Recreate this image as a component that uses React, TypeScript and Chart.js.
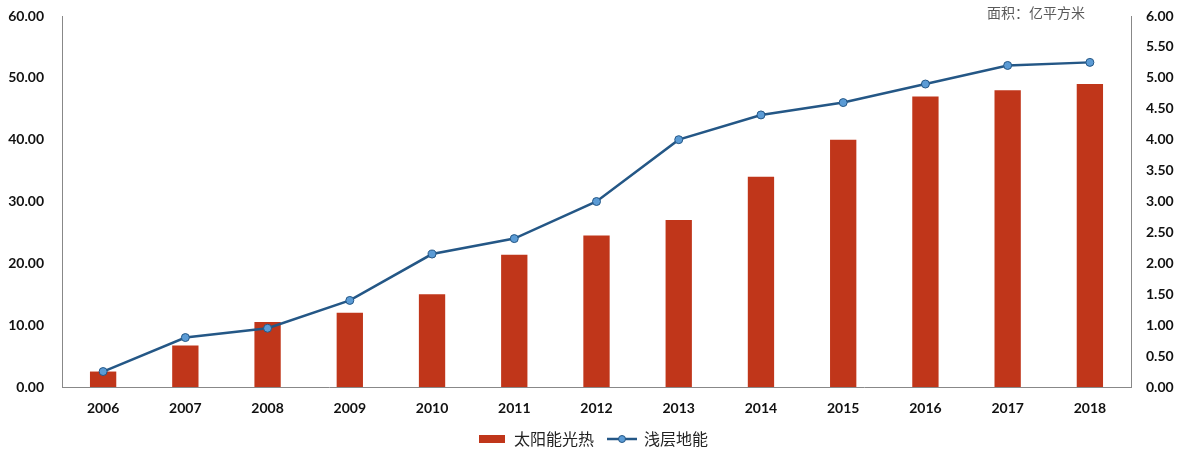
import React, { useEffect, useRef } from "react";
import { Chart, registerables } from "chart.js";

Chart.register(...registerables);

const years = ["2006", "2007", "2008", "2009", "2010", "2011", "2012", "2013", "2014", "2015", "2016", "2017", "2018"];
const solarThermal = [2.5, 6.7, 10.5, 12.0, 15.0, 21.4, 24.5, 27.0, 34.0, 40.0, 47.0, 48.0, 49.0];
const shallowGeo = [0.25, 0.8, 0.95, 1.4, 2.15, 2.4, 3.0, 4.0, 4.4, 4.6, 4.9, 5.2, 5.25];
const unitLabel = "面积：亿平方米";

const barColor = "#C0361A";
const lineColor = "#245786";
const pointFill = "#5B9BD5";

const tickFont = { family: "Lato, 'Open Sans', sans-serif", size: 14, weight: "bold" as const };

const unitPlugin = {
  id: "unitLabel",
  afterDraw(chart: any) {
    const ctx = chart.ctx;
    const area = chart.chartArea;
    ctx.save();
    ctx.font = "14px 'Noto Sans CJK SC', sans-serif";
    ctx.fillStyle = "#595959";
    ctx.textAlign = "right";
    ctx.textBaseline = "middle";
    ctx.fillText(unitLabel, area.right - 46, 13);
    ctx.restore();
  },
};

function makeBarIcon() {
  const c = document.createElement("canvas");
  c.width = 26;
  c.height = 8;
  const ctx = c.getContext("2d")!;
  ctx.fillStyle = barColor;
  ctx.fillRect(0, 0, 26, 8);
  return c;
}

function makeLineIcon() {
  const c = document.createElement("canvas");
  c.width = 30;
  c.height = 10;
  const ctx = c.getContext("2d")!;
  ctx.strokeStyle = lineColor;
  ctx.lineWidth = 2.5;
  ctx.beginPath();
  ctx.moveTo(0, 5);
  ctx.lineTo(30, 5);
  ctx.stroke();
  ctx.beginPath();
  ctx.arc(15, 5, 3.5, 0, Math.PI * 2);
  ctx.fillStyle = pointFill;
  ctx.fill();
  ctx.lineWidth = 1;
  ctx.stroke();
  return c;
}

export default function App() {
  const ref = useRef<HTMLCanvasElement>(null);
  useEffect(() => {
    if (!ref.current) return;
    const barIcon = makeBarIcon();
    const lineIcon = makeLineIcon();
    const fitY = (w: number) => (s: any) => {
      s.width = w;
      s.paddingTop = 16;
      s.paddingBottom = 0;
    };
    const chart = new Chart(ref.current, {
      type: "bar",
      data: {
        labels: years,
        datasets: [
          {
            type: "line",
            label: "浅层地能",
            data: shallowGeo,
            yAxisID: "y1",
            borderColor: lineColor,
            backgroundColor: pointFill,
            borderWidth: 2.5,
            pointRadius: 4,
            pointBorderWidth: 1,
            pointBorderColor: lineColor,
            pointBackgroundColor: pointFill,
            tension: 0,
            order: 0,
          } as any,
          {
            type: "bar",
            label: "太阳能光热",
            data: solarThermal,
            yAxisID: "y",
            backgroundColor: barColor,
            borderWidth: 0,
            categoryPercentage: 0.8,
            barPercentage: 0.4,
            order: 1,
          },
        ],
      },
      options: {
        animation: false,
        responsive: true,
        maintainAspectRatio: false,
        layout: { padding: { top: 0, left: 0, right: 0, bottom: 3 } },
        plugins: {
          legend: {
            position: "bottom",
            reverse: true,
            labels: {
              font: { family: "'Noto Sans CJK SC', sans-serif", size: 16 },
              color: "#222",
              usePointStyle: true,
              pointStyleWidth: 28,
              boxHeight: 10,
              padding: 14,
              generateLabels: (ch: any) => {
                const items = Chart.defaults.plugins.legend.labels.generateLabels(ch);
                return items.map((it: any) => ({
                  ...it,
                  pointStyle: it.datasetIndex === 0 ? lineIcon : barIcon,
                }));
              },
            },
          },
          tooltip: { enabled: false },
        },
        scales: {
          x: {
            grid: { display: false, drawTicks: false },
            border: { display: true, color: "#888", width: 1 },
            ticks: { font: tickFont, color: "#111", padding: 13 },
            afterFit: (s: any) => {
              s.height = 30;
            },
          },
          y: {
            position: "left",
            min: 0,
            max: 60,
            grid: { display: false, drawTicks: false },
            border: { display: true, color: "#888", width: 1 },
            ticks: {
              stepSize: 10,
              font: tickFont,
              color: "#111",
              padding: 18,
              callback: (v: any) => Number(v).toFixed(2),
            },
            afterFit: fitY(62),
          },
          y1: {
            position: "right",
            min: 0,
            max: 6,
            grid: { display: false, drawTicks: false },
            border: { display: true, color: "#888", width: 1 },
            ticks: {
              stepSize: 0.5,
              font: tickFont,
              color: "#111",
              padding: 15,
              callback: (v: any) => Number(v).toFixed(2),
            },
            afterFit: fitY(55),
          },
        },
      },
      plugins: [unitPlugin],
    });
    return () => chart.destroy();
  }, []);
  return (
    <div style={{ position: "absolute", left: 0, top: 0, width: 1186, height: 460 }}>
      <canvas ref={ref} />
    </div>
  );
}
